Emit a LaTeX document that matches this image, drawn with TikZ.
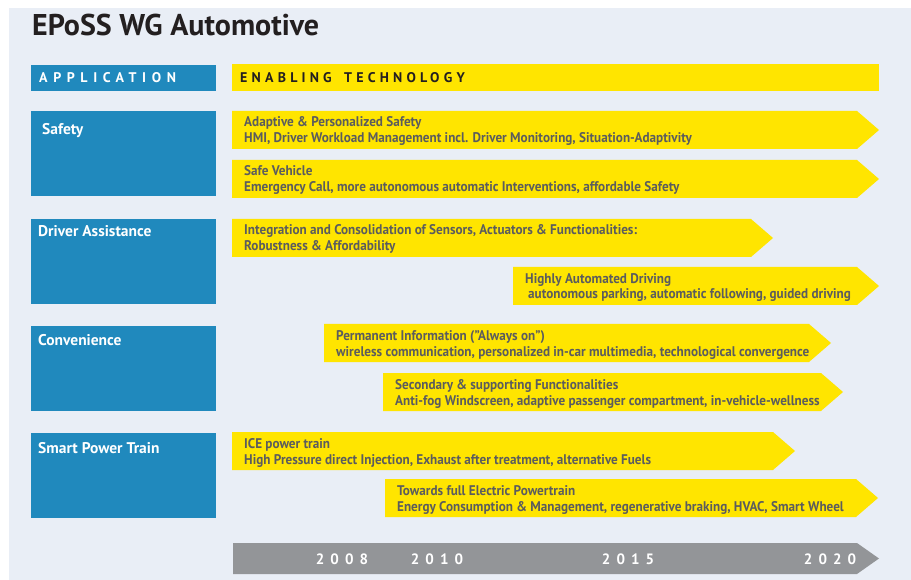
\documentclass[tikz,border=0pt]{standalone}
\usepackage{fontspec}
\setmainfont{PT Sans}
\newfontfamily\barfont{PT Sans}[FakeStretch=0.94]
\newfontfamily\spacedfont{PT Sans}[LetterSpace=40]
\newfontfamily\techfont{PT Sans}[LetterSpace=30,WordSpace=1.6]
\definecolor{panelbg}{HTML}{E9EEF6}
\definecolor{appblue}{HTML}{2089BD}
\definecolor{techyellow}{HTML}{FFE500}
\definecolor{yeargray}{HTML}{939598}
\definecolor{techgray}{HTML}{5B5C5E}
\definecolor{titleblack}{HTML}{231F20}
\tikzset{
	appbox/.style={fill=appblue,inner sep=0pt,minimum width=185,minimum height=85,anchor=north west},
	applabel/.style={anchor=base west,inner sep=0pt,text=white,font=\bfseries\fontsize{15.5}{16}\selectfont},
	techtext/.style={anchor=base west,align=left,inner sep=0pt,text=techgray,font=\barfont\bfseries\fontsize{14}{16}\selectfont},
	headtext/.style={anchor=base west,inner sep=0pt,font=\spacedfont\bfseries\fontsize{14}{14}\selectfont},
	yeartext/.style={anchor=base,inner sep=0pt,text=white,font=\spacedfont\bfseries\fontsize{15}{16}\selectfont}
}
% yellow bar: left x, top y, end of body x, name, text
\newcommand{\techbar}[5]{%
	\fill[techyellow] (#1,#2) -- (#3,#2) -- (#3+22,#2+19) -- (#3,#2+38) -- (#1,#2+38) -- cycle;
	\node[techtext] (#4) at (#1+12,#2+32) {#5};
}
\begin{document}
\begin{tikzpicture}[x=1pt,y=-1pt]
		\useasboundingbox (0,0) rectangle (911,580);
		% background
		\fill[panelbg] (9,8) rectangle (911,580);
		% title
		\node[anchor=base west,inner sep=0pt,text=titleblack,font=\bfseries\fontsize{30}{32}\selectfont] (title) at (32,36) {EPoSS WG Automotive};
		% headers
		\node[appbox,minimum height=26] (apphead) at (31,65) {};
		\node[headtext,text=white] (applabel) at (39,83) {APPLICATION};
		\fill[techyellow] (232,64) rectangle (879,91);
		\node[headtext,text=titleblack,font=\techfont\bfseries\fontsize{14}{14}\selectfont] (techlabel) at (240,83) {ENABLING TECHNOLOGY};
		% application boxes
		\foreach \y/\dx/\dy/\name/\lab in {111/11/24/safety/Safety, 219/7/18/driver/Driver Assistance, 326/7/19/conv/Convenience, 433/7/20/power/Smart Power Train}{
			\node[appbox] (\name) at (31,\y) {};
			\node[applabel] (\name label) at ([shift={(\dx,\dy)}]\name.north west) {\lab};
		}
		% enabling technologies
		\techbar{232}{111}{857}{adaptive}{Adaptive \& Personalized Safety\\HMI, Driver Workload Management incl. Driver Monitoring, Situation-Adaptivity}
		\techbar{232}{160}{857}{vehicle}{Safe Vehicle\\Emergency Call, more autonomous automatic Interventions, affordable Safety}
		\techbar{232}{219}{751}{sensors}{Integration and Consolidation of Sensors, Actuators \& Functionalities:\\Robustness \& Affordability}
		\techbar{513}{267}{857}{automated}{Highly Automated Driving\\\hspace{3pt}autonomous parking, automatic following, guided driving}
		\techbar{324}{324}{809}{permanent}{Permanent Information (\textquotedblright Always on\textquotedblright)\\wireless communication, personalized in-car multimedia, technological convergence}
		\techbar{383}{373}{821}{secondary}{Secondary \& supporting Functionalities\\Anti-fog Windscreen, adaptive passenger compartment, in-vehicle-wellness}
		\techbar{232}{432}{773}{ice}{ICE power train\\High Pressure direct Injection, Exhaust after treatment, alternative Fuels}
		\techbar{385}{479}{856}{electric}{Towards full Electric Powertrain\\Energy Consumption \& Management, regenerative braking, HVAC, Smart Wheel}
		% time line
		\fill[yeargray] (233,543) -- (857,543) -- (879,558.5) -- (857,574) -- (233,574) -- cycle;
		\foreach \x/\yr in {342/2008,437/2010,628/2015,830/2020}
			\node[yeartext] (year\yr) at (\x,564) {\yr};
\end{tikzpicture}
\end{document}
